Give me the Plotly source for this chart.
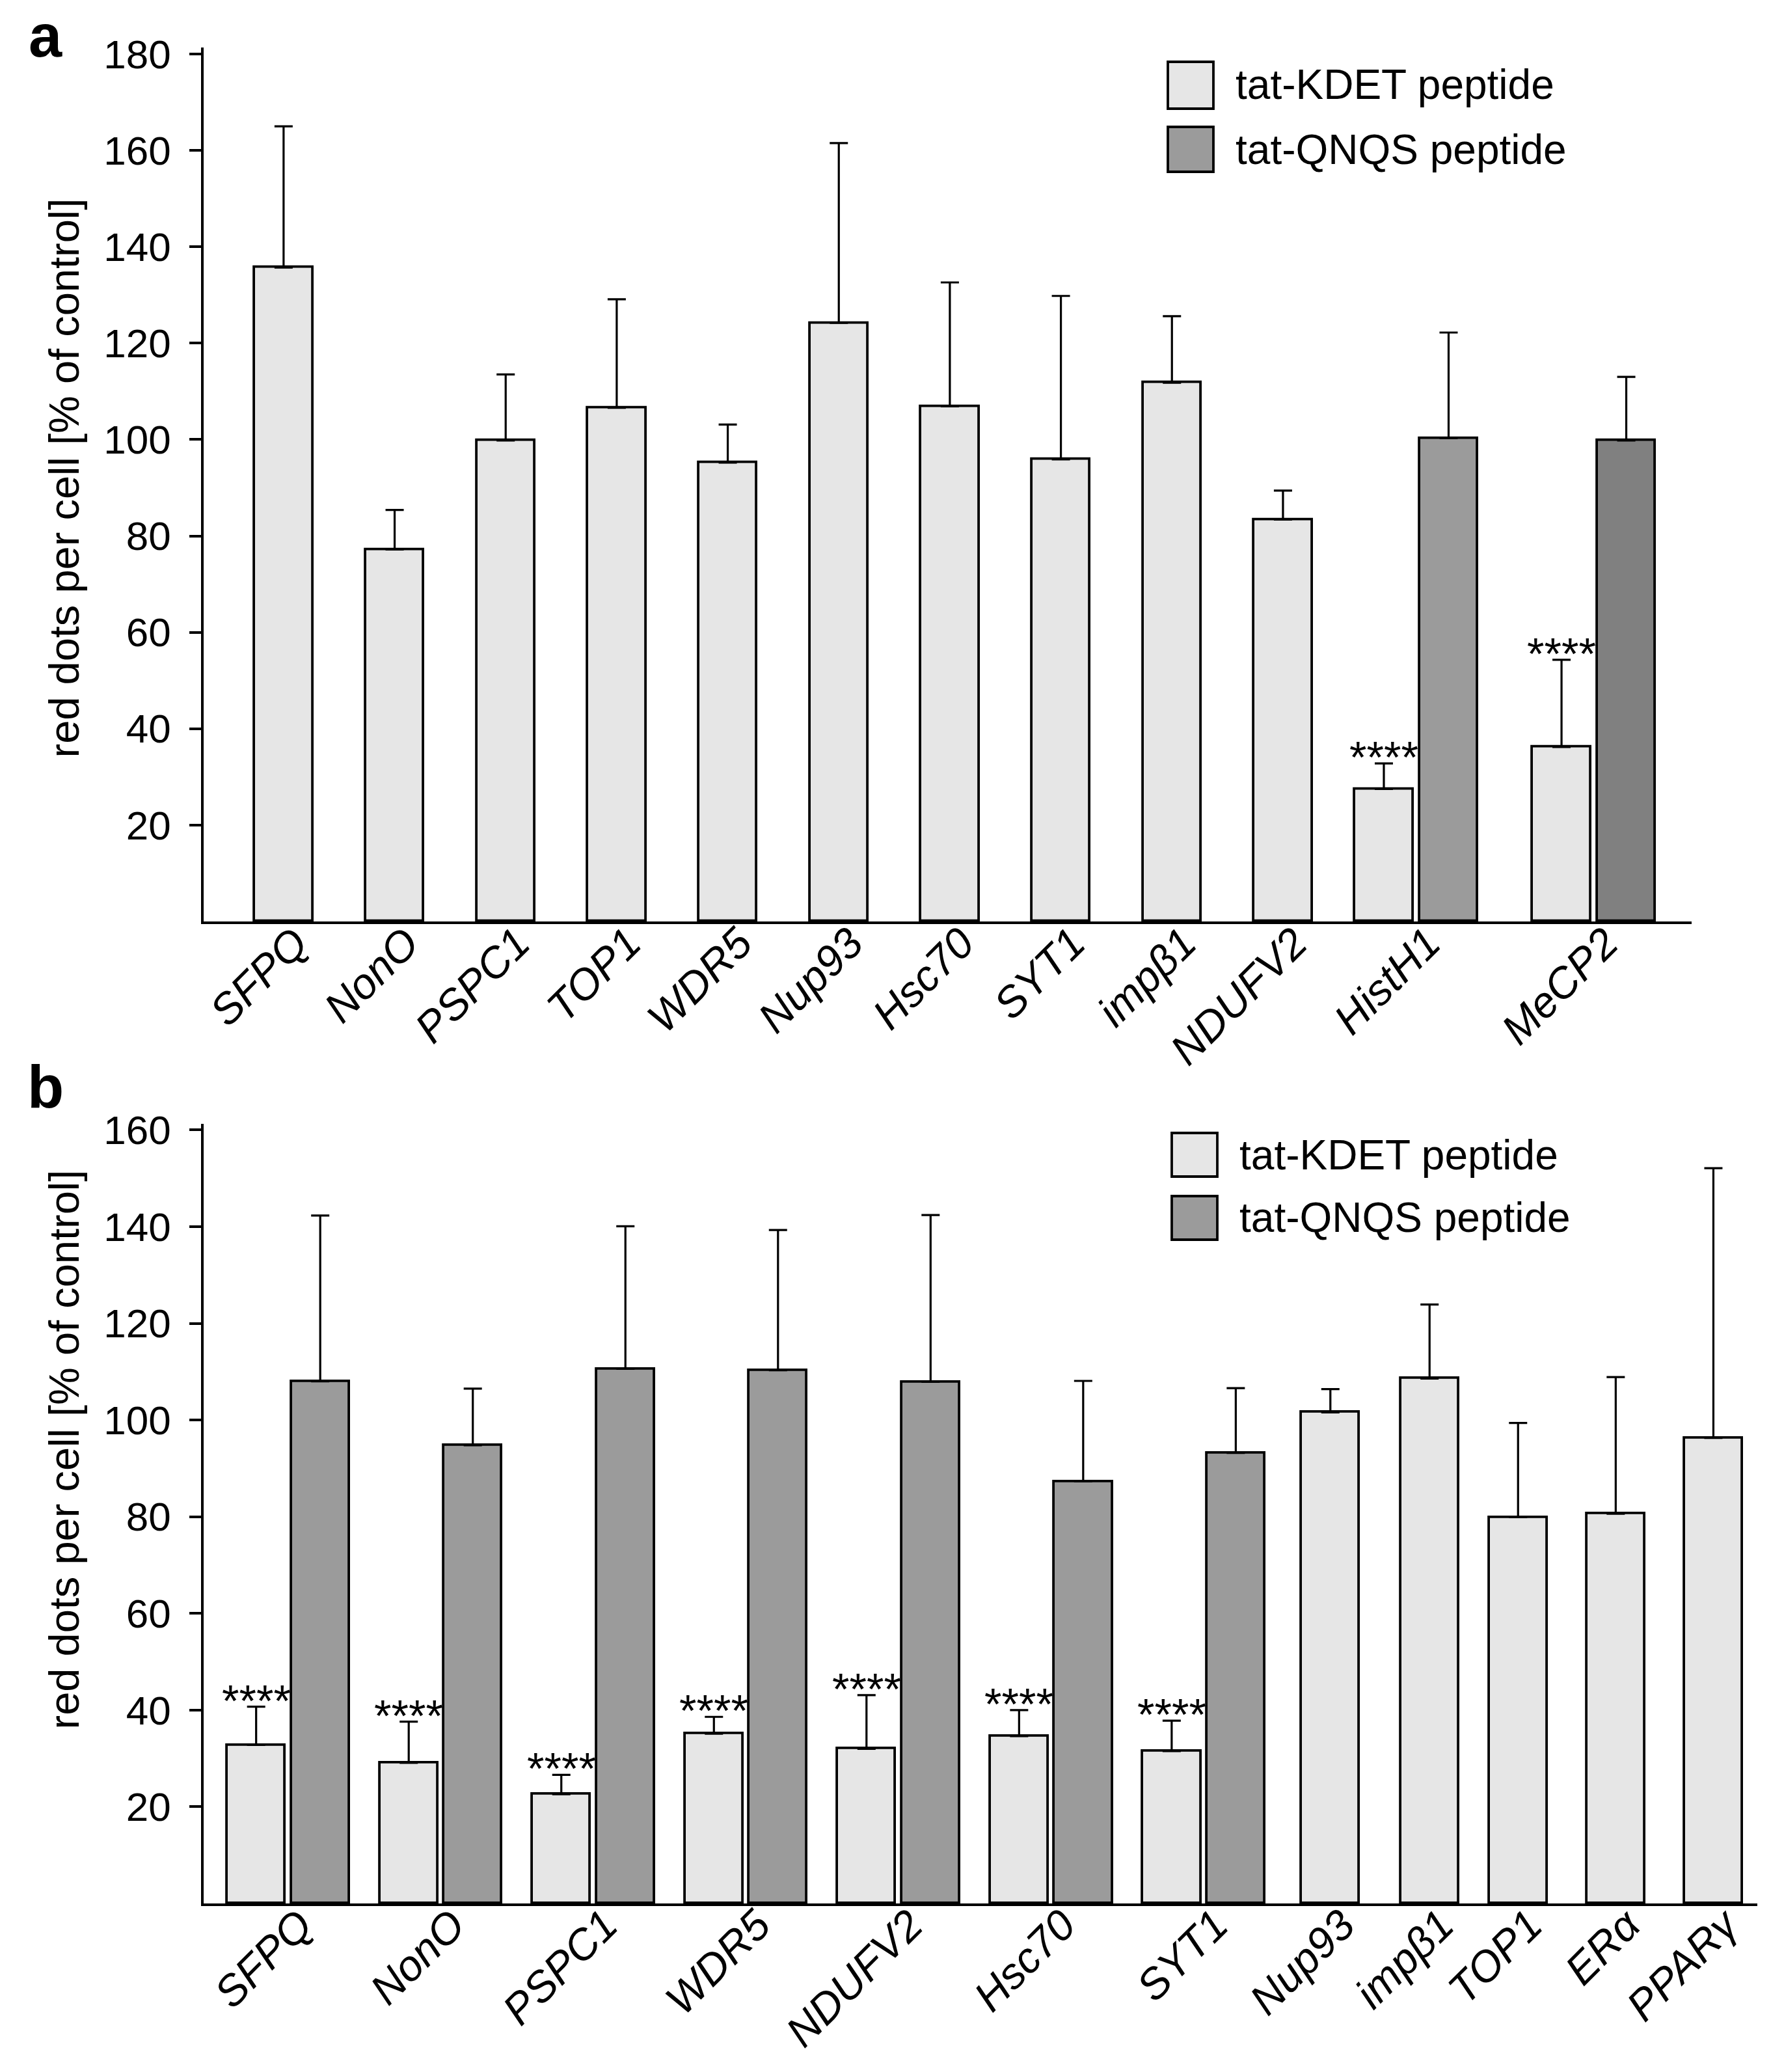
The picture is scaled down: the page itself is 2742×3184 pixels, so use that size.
import plotly.graph_objects as go

# ---------------- data ----------------
# Panel a
cats_a = ["SFPQ", "NonO", "PSPC1", "TOP1", "WDR5", "Nup93", "Hsc70", "SYT1",
          "impβ1", "NDUFV2", "HistH1", "MeCP2"]
kdet_a = [135.7, 77.2, 99.8, 106.6, 95.2, 124.2, 106.9, 95.9, 111.8, 83.4, 27.5, 36.2]
kdet_a_sd = [29.3, 8.2, 13.7, 22.5, 7.9, 37.3, 25.7, 33.9, 13.8, 6.0, 5.3, 18.1]
qnqs_a_cats = ["HistH1", "MeCP2"]
qnqs_a = [100.3, 99.8]
qnqs_a_sd = [21.9, 13.2]
sig_a = ["HistH1", "MeCP2"]

# Panel b
cats_b = ["SFPQ", "NonO", "PSPC1", "WDR5", "NDUFV2", "Hsc70", "SYT1",
          "Nup93", "impβ1", "TOP1", "ERα", "PPARγ"]
kdet_b = [32.8, 29.1, 22.6, 35.1, 32.0, 34.6, 31.5, 101.6, 108.6, 79.9, 80.6, 96.3]
kdet_b_sd = [7.9, 8.5, 4.0, 3.5, 11.1, 5.4, 6.3, 4.8, 15.3, 19.5, 28.3, 55.8]
qnqs_b_cats = ["SFPQ", "NonO", "PSPC1", "WDR5", "NDUFV2", "Hsc70", "SYT1"]
qnqs_b = [108.0, 94.8, 110.6, 110.3, 107.9, 87.3, 93.2]
qnqs_b_sd = [34.3, 11.7, 29.5, 29.0, 34.5, 20.8, 13.4]
sig_b = ["SFPQ", "NonO", "PSPC1", "WDR5", "NDUFV2", "Hsc70", "SYT1"]

series_names = ["tat-KDET peptide", "tat-QNQS peptide"]
y_title = "red dots per cell [% of control]"
yticks_a = [20, 40, 60, 80, 100, 120, 140, 160, 180]
yticks_b = [20, 40, 60, 80, 100, 120, 140, 160]

# ---------------- layout helpers (category slots on the axis) ----------------
slot_a = [0, 1, 2, 3, 4, 5, 6, 7, 8, 9, 10.2, 11.8]
slot_b = [0, 1, 2, 3, 4, 5, 6, 6.83, 7.48, 8.06, 8.70, 9.34]
barw_a, half_a = 0.524, 0.2915
barw_b, half_b = 0.381, 0.21

C_K = "#e6e6e6"
C_Q = "#9b9b9b"
C_Q2 = "#808080"
FONT = "Liberation Sans, Arial, sans-serif"


def panel(fig, cats, slots, kdet, kdet_sd, qcats, qv, qsd, qcolors, sig, half, bw, xa, ya):
    pos = dict(zip(cats, slots))
    kx = [pos[c] - half if c in qcats else pos[c] for c in cats]
    qx = [pos[c] + half for c in qcats]
    fig.add_trace(go.Bar(
        x=kx, y=kdet, width=bw, name=series_names[0], showlegend=False,
        marker=dict(color=C_K, line=dict(color="black", width=3.8)),
        error_y=dict(type="data", symmetric=False, array=kdet_sd,
                     arrayminus=[0] * len(kdet), color="black", thickness=3.2, width=14),
        xaxis=xa, yaxis=ya))
    fig.add_trace(go.Bar(
        x=qx, y=qv, width=bw, name=series_names[1], showlegend=False,
        marker=dict(color=qcolors, line=dict(color="black", width=3.8)),
        error_y=dict(type="data", symmetric=False, array=qsd,
                     arrayminus=[0] * len(qv), color="black", thickness=3.2, width=14),
        xaxis=xa, yaxis=ya))
    for c, x, v, s in zip(cats, kx, kdet, kdet_sd):
        if c in sig:
            fig.add_annotation(x=x, y=v + s, xref=xa, yref=ya, text="****",
                               showarrow=False, yanchor="bottom", yshift=-30,
                               font=dict(family=FONT, size=68, color="black"))


fig = go.Figure()
panel(fig, cats_a, slot_a, kdet_a, kdet_a_sd, qnqs_a_cats, qnqs_a, qnqs_a_sd,
      [C_Q, C_Q2], sig_a, half_a, barw_a, "x", "y")
panel(fig, cats_b, slot_b, kdet_b, kdet_b_sd, qnqs_b_cats, qnqs_b, qnqs_b_sd,
      [C_Q] * len(qnqs_b), sig_b, half_b, barw_b, "x2", "y2")

W, H = 2742, 3184

common_x = dict(showline=True, linecolor="black", linewidth=3.8, ticks="",
                showgrid=False, zeroline=False, tickangle=-45, automargin=False,
                ticklabelstandoff=-36, ticklabelshift=18,
                tickfont=dict(family=FONT, size=66, color="black", style="italic"))
common_y = dict(showline=True, linecolor="black", linewidth=3.8, ticks="outside",
                ticklen=18, tickwidth=3.5, tickcolor="black", showgrid=False,
                zeroline=False, ticklabelstandoff=16, automargin=False,
                tickfont=dict(family=FONT, size=62, color="black"))

fig.update_layout(
    width=W, height=H, margin=dict(l=0, r=0, t=0, b=0, autoexpand=False),
    paper_bgcolor="white", plot_bgcolor="white", bargap=0,
    font=dict(family=FONT, color="black"),
    xaxis=dict(common_x, domain=[313 / W, 2600 / W], range=[-0.72, 12.68],
               tickvals=slot_a, ticktext=cats_a, anchor="y"),
    yaxis=dict(common_y, domain=[1 - 1416 / H, 1 - 72.6 / H], range=[0, 181.4],
               tickvals=yticks_a, anchor="x"),
    xaxis2=dict(common_x, domain=[313 / W, 2701 / W], range=[-0.554, 9.628],
                tickvals=slot_b, ticktext=cats_b, anchor="y2"),
    yaxis2=dict(common_y, domain=[1 - 2925 / H, 1 - 1726.8 / H], range=[0, 161.3],
                tickvals=yticks_b, anchor="x2"),
)

# y-axis titles
for ty in (735, 2228):
    fig.add_annotation(x=97.5 / W, y=1 - ty / H, xref="paper", yref="paper",
                       text=y_title, textangle=-90, showarrow=False,
                       xanchor="center", yanchor="middle",
                       font=dict(family=FONT, size=65, color="black"))

# panel letters
fig.add_annotation(x=42 / W, y=1 - 55 / H, xref="paper", yref="paper", text="<b>a</b>",
                   showarrow=False, xanchor="left", yanchor="middle",
                   font=dict(family=FONT, size=92, color="black"))
fig.add_annotation(x=40 / W, y=1 - 1670 / H, xref="paper", yref="paper", text="<b>b</b>",
                   showarrow=False, xanchor="left", yanchor="middle",
                   font=dict(family=FONT, size=92, color="black"))

# legends (drawn as swatches + text)
legend_rows = [
    # (x0, x1, y0, y1, text_y, color, label)
    (1795, 1865, 95, 167, 130, C_K, series_names[0]),
    (1795, 1865, 195, 264, 230, C_Q, series_names[1]),
    (1801, 1871, 1741, 1808, 1775, C_K, series_names[0]),
    (1801, 1871, 1838, 1905, 1871, C_Q, series_names[1]),
]
for x0, x1, y0, y1, ty, col, lab in legend_rows:
    fig.add_shape(type="rect", xref="paper", yref="paper",
                  x0=x0 / W, x1=x1 / W, y0=1 - y1 / H, y1=1 - y0 / H,
                  fillcolor=col, line=dict(color="black", width=3.8))
    fig.add_annotation(x=(x1 + 32) / W, y=1 - ty / H, xref="paper", yref="paper",
                       text=lab, showarrow=False, xanchor="left", yanchor="middle",
                       font=dict(family=FONT, size=64, color="black"))

fig.write_html("out.html")
